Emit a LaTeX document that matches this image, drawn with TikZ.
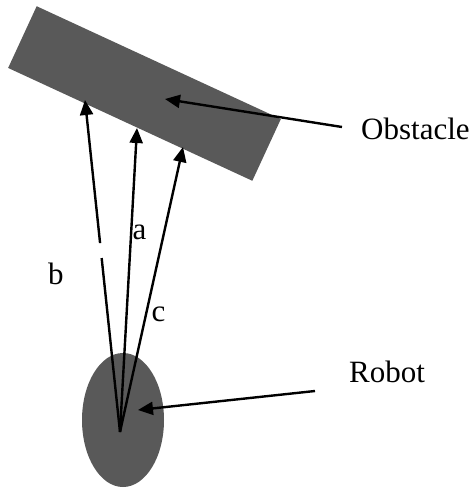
\documentclass[tikz,border=0pt]{standalone}
\usepackage{fontspec}
\setmainfont{Liberation Serif}
\usepackage{tikz}
\usetikzlibrary{shapes.geometric, arrows.meta, calc}

\definecolor{shade}{HTML}{595959}

\begin{document}
\begin{tikzpicture}[x=1pt, y=-1pt,
  body/.style={fill=shade, draw=none},
  label/.style={font=\fontsize{31}{35}\selectfont, inner sep=0pt},
  arrow/.style={-{Triangle[length=15pt,width=13pt]}, line width=2.4pt, black}
]
\useasboundingbox (0,0) rectangle (475,488);

% obstacle and robot
\node[body, rectangle, rotate=-24.8, minimum width=269pt, minimum height=68pt]
  (obs) at (144.5,93.5) {};
\node[body, ellipse, minimum width=82pt, minimum height=134pt, inner sep=0pt]
  (rob) at (123,420) {};

\coordinate (o)    at (120,432);
\coordinate (btip) at (85,100);
\coordinate (atip) at (137,128);
\coordinate (ctip) at (183,147);
\coordinate (obsfrom) at (342,127);
\coordinate (obsto)   at (165,99);
\coordinate (robfrom) at (315,391);
\coordinate (robto)   at (138,410);

% rays
\draw[line width=2.4pt] (o) -- ($(o)!0.524!(btip)$);
\draw[arrow] ($(o)!0.569!(btip)$) -- (btip);
\draw[arrow] (o) -- (atip);
\draw[arrow] (o) -- (ctip);

\node[label, anchor=base] (b) at (56,284) {b};
\node[label, anchor=base] (a) at (139.5,239) {a};
\node[label, anchor=base] (c) at (158.5,321) {c};

% pointers
\node[label, anchor=base west] (obslbl) at (361,139) {Obstacle};
\node[label, anchor=base west] (roblbl) at (349,382) {Robot};
\draw[arrow] (obsfrom) -- (obsto);
\draw[arrow] (robfrom) -- (robto);
\end{tikzpicture}
\end{document}
